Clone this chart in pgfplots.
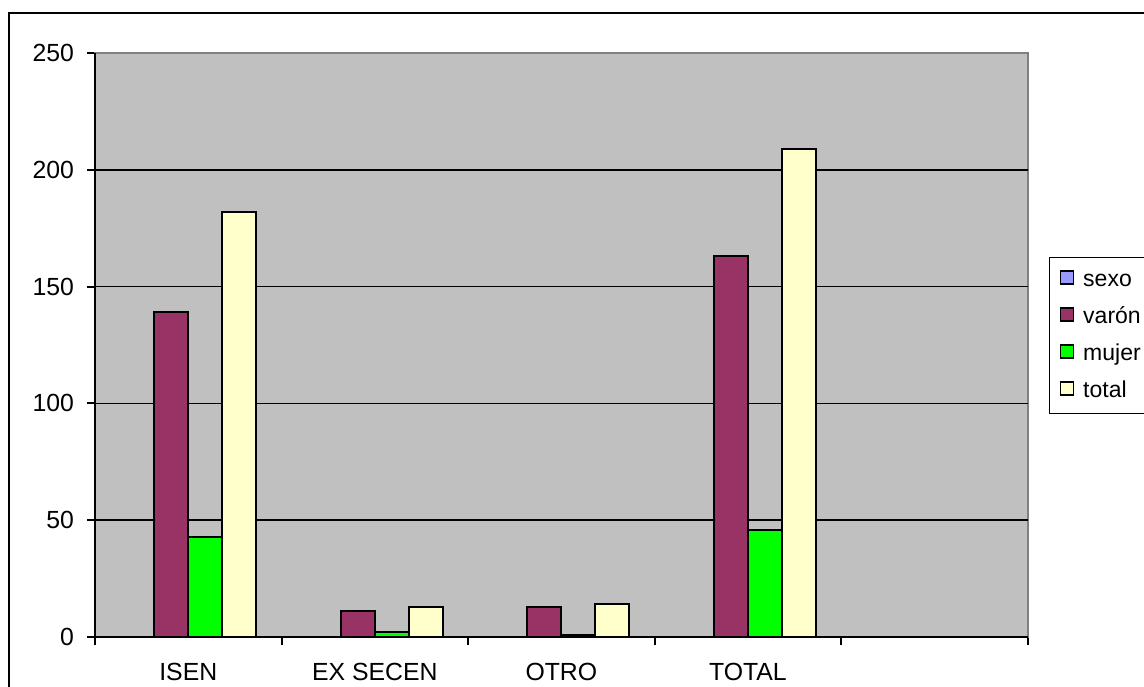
\documentclass[border=0pt]{standalone}
\usepackage{pgfplots}
\pgfplotsset{compat=1.18}
\usepackage{fontspec}
\setmainfont{Liberation Sans}
\definecolor{sexoc}{HTML}{9999FF}
\definecolor{varonc}{HTML}{993366}
\definecolor{mujerc}{HTML}{00FF00}
\definecolor{totalc}{HTML}{FFFFCC}
\definecolor{bgc}{HTML}{C0C0C0}
\definecolor{borderc}{HTML}{808080}
\begin{document}
\begin{tikzpicture}[x=0.5pt,y=0.5pt]
\path[use as bounding box] (0,0) rectangle (1144,686);
\draw[line width=1pt] (9,-20) -- (9,673) -- (1170,673);
\begin{axis}[
  at={(47.5pt,24.5pt)}, anchor=south west,
  scale only axis, width=466.35pt, height=292pt,
  xmin=-0.5, xmax=4.5, ymin=0, ymax=250,
  font=\fontsize{12.4}{15}\selectfont,
  /pgf/number format/assume math mode=true,
  axis background/.style={fill=bgc},
  axis line style={draw=borderc, line width=1pt},
  tick pos=left, tick align=outside,
  major tick length=4pt,
  tick style={black, line width=1pt},
  xtick={-0.5,0.5,...,4.5}, xticklabels={},
  extra x ticks={0,1,2,3},
  extra x tick labels={ISEN, EX SECEN, OTRO, TOTAL},
  extra x tick style={major tick length=0pt, xticklabel style={yshift=-9.5pt}},
  ytick={0,50,...,250},
  yticklabel style={xshift=-3pt},
  extra y ticks={50,100,150,200},
  extra y tick labels={},
  extra y tick style={major tick length=0pt, grid=major, grid style={black, line width=0.8pt}},
  legend style={at={(1.0228,0.6507)}, anchor=north west, draw=black, line width=0.75pt,
    fill=white, inner xsep=5pt, inner ysep=2pt, column sep=0pt,
    font=\fontsize{11.5}{14}\selectfont,
    nodes={text height=9pt, text depth=3pt, inner ysep=3.25pt, inner xsep=4.5pt}},
  legend cell align=left,
  legend image code/.code={\draw[#1, draw=black, line width=0.75pt] (0pt,-2pt) rectangle (6.5pt,4.5pt);},
]
\addlegendimage{fill=sexoc}
\addlegendentry{sexo}
\addplot[ybar, bar width=17pt, bar shift=-8.5pt, fill=varonc, draw=black, line width=1pt]
  coordinates {(0,139) (1,11) (2,13) (3,163)};
\addlegendentry{varón}
\addplot[ybar, bar width=17pt, bar shift=8.5pt, fill=mujerc, draw=black, line width=1pt]
  coordinates {(0,43) (1,2) (2,1) (3,46)};
\addlegendentry{mujer}
\addplot[ybar, bar width=17pt, bar shift=25.5pt, fill=totalc, draw=black, line width=1pt]
  coordinates {(0,182) (1,13) (2,14) (3,209)};
\addlegendentry{total}
\end{axis}
\draw[line width=1pt] (95,633) -- (95,49) -- (1027.7,49);
\end{tikzpicture}
\end{document}
